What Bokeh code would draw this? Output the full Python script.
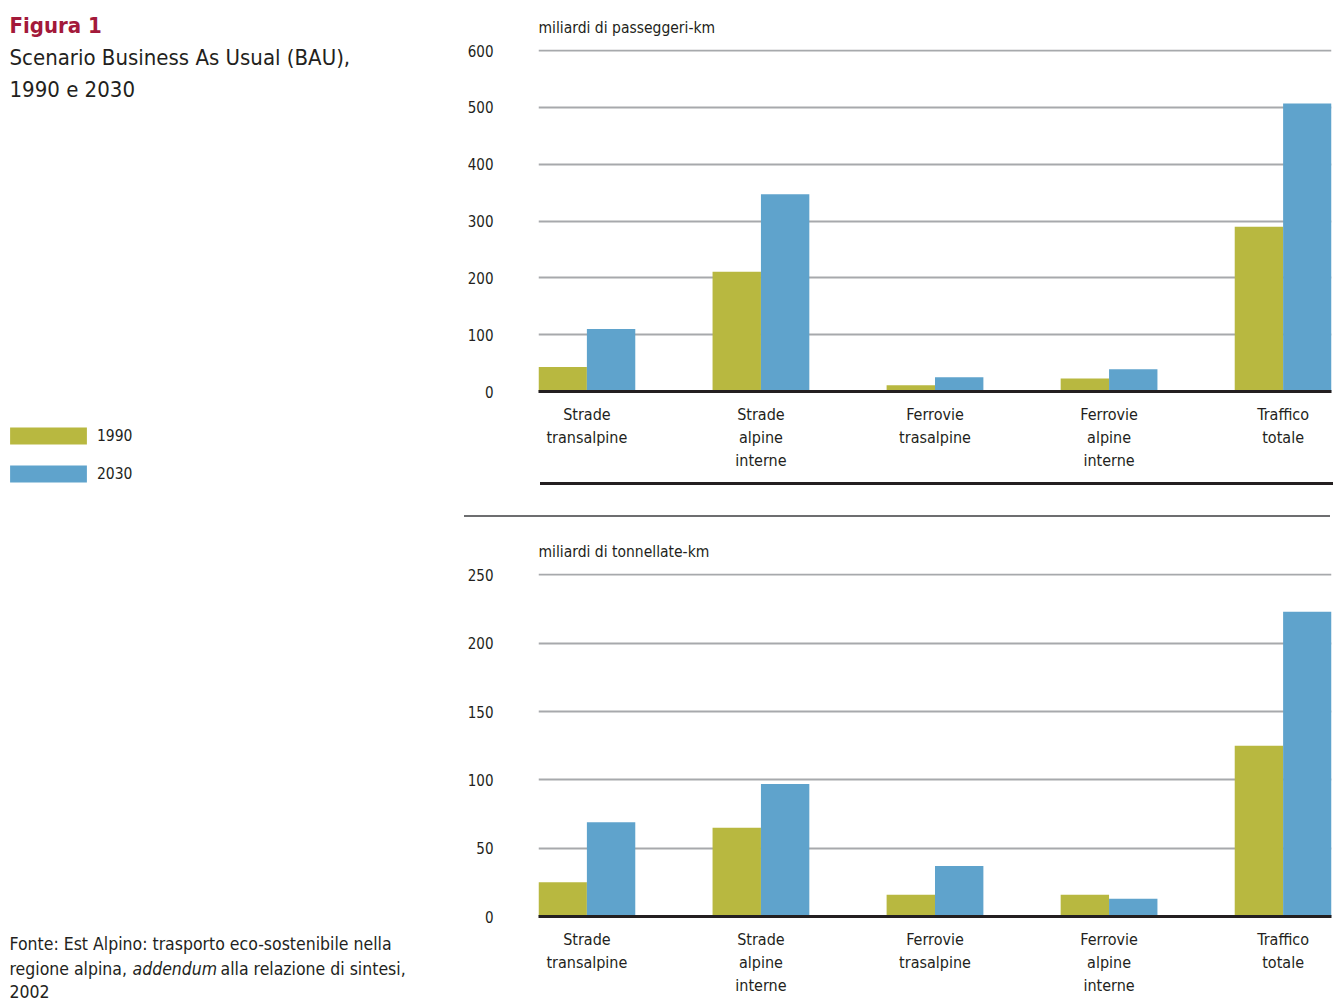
from bokeh.plotting import figure
from bokeh.models import (Range1d, FixedTicker, ColumnDataSource, Label, Legend, LegendItem, Div)
from bokeh.transform import dodge
from bokeh.layouts import row, column
from bokeh.embed import file_html
from bokeh.resources import INLINE

FONT = "'Liberation Sans Narrow', 'DejaVu Sans Condensed', 'Arial Narrow', sans-serif"
C1990 = "#B8B840"
C2030 = "#5FA3CC"
TXT = "#231F20"
GRID = "#A7A9AC"

categories = ["Strade\ntransalpine", "Strade\nalpine\ninterne", "Ferrovie\ntrasalpine",
              "Ferrovie\nalpine\ninterne", "Traffico\ntotale"]
passeggeri_1990 = [43, 211, 11, 23, 290]
passeggeri_2030 = [110, 347, 25, 39, 507]
merci_1990 = [25, 65, 16, 16, 125]
merci_2030 = [69, 97, 37, 13, 223]
years = ["1990", "2030"]
passeggeri_ticks = [0, 100, 200, 300, 400, 500, 600]
merci_ticks = [0, 50, 100, 150, 200, 250]

BAR_W = 0.278


def bar_chart(title, v1990, v2030, ticks, ymax, height, bt, bb):
    idx = list(range(len(categories)))
    src = ColumnDataSource(dict(idx=idx, y1990=v1990, y2030=v2030))
    p = figure(width=876, height=height, output_backend="svg", toolbar_location=None,
               x_range=Range1d(-BAR_W, len(categories) - 1 + BAR_W),
               y_range=Range1d(0, ymax),
               min_border_left=78, min_border_right=5, min_border_top=bt, min_border_bottom=bb,
               outline_line_color=None)
    p.title.text = title
    p.title.text_font = FONT
    p.title.text_font_size = "15.5px"
    p.title.text_font_style = "normal"
    p.title.text_color = TXT
    p.title.align = "left"
    p.title.standoff = 25
    p.vbar(x=dodge("idx", -BAR_W / 2, range=p.x_range), top="y1990", width=BAR_W,
           source=src, fill_color=C1990, line_color=None)
    p.vbar(x=dodge("idx", BAR_W / 2, range=p.x_range), top="y2030", width=BAR_W,
           source=src, fill_color=C2030, line_color=None)
    p.xgrid.grid_line_color = None
    p.ygrid.grid_line_color = GRID
    p.ygrid.grid_line_width = 2
    p.ygrid.ticker = FixedTicker(ticks=ticks)
    p.yaxis.ticker = FixedTicker(ticks=ticks)
    p.yaxis.axis_line_color = None
    p.yaxis.major_tick_line_color = None
    p.yaxis.minor_tick_line_color = None
    p.yaxis.major_tick_out = 0
    p.yaxis.major_tick_in = 0
    p.yaxis.minor_tick_out = 0
    p.yaxis.major_label_standoff = 45
    p.yaxis.major_label_text_font = FONT
    p.yaxis.major_label_text_font_size = "15px"
    p.yaxis.major_label_text_color = TXT
    p.xaxis.ticker = FixedTicker(ticks=idx)
    p.xaxis.major_label_overrides = {i: c for i, c in enumerate(categories)}
    p.xaxis.axis_line_color = TXT
    p.xaxis.axis_line_width = 3
    p.xaxis.major_tick_line_color = None
    p.xaxis.minor_tick_line_color = None
    p.xaxis.major_tick_out = 0
    p.xaxis.major_tick_in = 0
    p.xaxis.minor_tick_out = 0
    p.xaxis.major_label_standoff = 13
    p.xaxis.major_label_text_font = FONT
    p.xaxis.major_label_text_font_size = "16px"
    p.xaxis.major_label_text_color = TXT
    p.xaxis.major_label_text_line_height = 1.23
    p.xaxis.major_label_orientation = "horizontal"
    return p


top = bar_chart("miliardi di passeggeri-km", passeggeri_1990, passeggeri_2030,
                passeggeri_ticks, 602, 478, 49, 87)
bottom = bar_chart("miliardi di tonnellate-km", merci_1990, merci_2030,
                   merci_ticks, 251, 482, 53, 86)

# separator strip (decorative rules)
sep = Div(width=876, height=42, margin=0,
          text='<div style="position:relative;width:876px;height:42px;">'
               '<div style="position:absolute;left:80px;top:4px;width:793px;height:3px;'
               'background:#231F20;"></div>'
               '<div style="position:absolute;left:4px;top:37px;width:866px;height:2px;'
               'background:#6D6E70;"></div></div>')

# left column: title, legend, source
left = figure(width=460, height=1002, output_backend="svg", toolbar_location=None,
              x_range=Range1d(0, 460), y_range=Range1d(1002, 0),
              min_border=0, outline_line_color=None)
left.axis.visible = False
left.grid.visible = False


def lab(text, x, y, size, color=TXT, style="normal"):
    left.add_layout(Label(x=x, y=y, text=text, text_font=FONT, text_font_size=size,
                          text_color=color, text_font_style=style,
                          text_baseline="middle", text_align="left"))


lab("Figura 1", 9, 25, "22px", color="#A3193A", style="bold")
lab("Scenario Business As Usual (BAU),", 9, 57, "22px")
lab("1990 e 2030", 9, 89, "22px")

nan = float("nan")
r1 = left.vbar(x=[nan], top=[nan], width=1, fill_color=C1990, line_color=None)
r2 = left.vbar(x=[nan], top=[nan], width=1, fill_color=C2030, line_color=None)
legend = Legend(items=[LegendItem(label=years[0], renderers=[r1]),
                       LegendItem(label=years[1], renderers=[r2])],
                location=(0, 518), padding=0, margin=0, spacing=17,
                glyph_width=96, glyph_height=21, label_height=21, label_standoff=1,
                label_text_font=FONT, label_text_font_size="15.5px", label_text_color=TXT,
                border_line_color=None, background_fill_alpha=0)
left.add_layout(legend, "center")

lab("Fonte: Est Alpino: trasporto eco-sostenibile nella", 9, 943, "17.5px")
lab("regione alpina,", 9, 968, "17.5px")
lab("addendum", 132, 968, "17.5px", style="italic")
lab("alla relazione di sintesi,", 220, 968, "17.5px")
lab("2002", 9, 991, "17.5px")

layout = row(left, column(top, sep, bottom, spacing=0), spacing=0)
open("out.html", "w").write(file_html(layout, INLINE))
